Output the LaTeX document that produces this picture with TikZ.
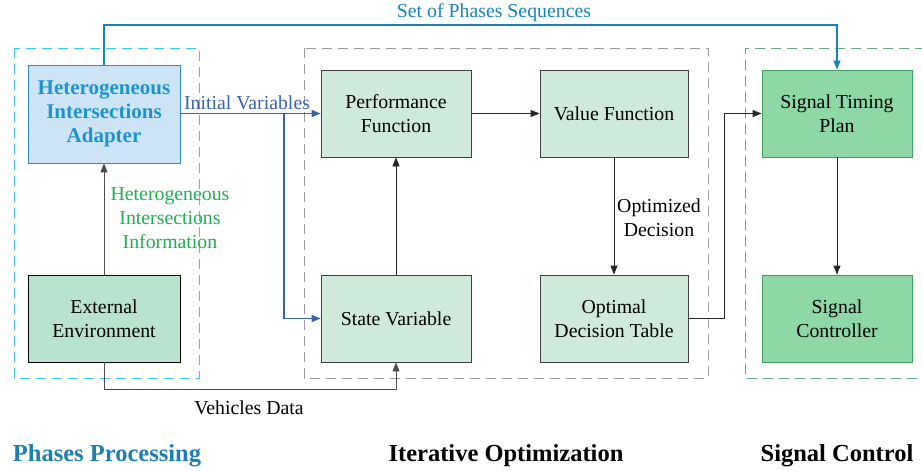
\documentclass[tikz,border=0pt]{standalone}
\usepackage{fontspec}
\setmainfont{Liberation Serif}
\newfontfamily\tms{Liberation Serif}
\usetikzlibrary{arrows.meta}
\definecolor{hiafill}{HTML}{CDE4F7}
\definecolor{hiadraw}{HTML}{2A8BC6}
\definecolor{hiatext}{HTML}{1C93D0}
\definecolor{infogreen}{HTML}{1DB04E}
\definecolor{topline}{HTML}{1584BC}
\definecolor{ivblue}{HTML}{3A62AA}
\definecolor{envfill}{HTML}{B8E3CF}
\definecolor{itfill}{HTML}{CFE9DA}
\definecolor{sigfill}{HTML}{8ED7A6}
\definecolor{sigdraw}{HTML}{3FA05E}
\definecolor{dashblue}{HTML}{3CC8F0}
\definecolor{dashgray}{HTML}{9A9A9A}
\definecolor{dashgreen}{HTML}{5FAA80}
\definecolor{titleblue}{HTML}{1F7FB0}
\begin{document}
\begin{tikzpicture}[x=1pt,y=-1pt,
  every node/.style={font=\tms\fontsize{19.8}{24}\selectfont, align=center, inner sep=0pt},
  box/.style={draw=black!75, line width=0.8pt, minimum width=150pt, minimum height=87pt},
  itbox/.style={box, fill=itfill},
  sigbox/.style={box, fill=sigfill, draw=sigdraw},
  grp/.style={dash pattern=on 10pt off 6pt, line width=0.9pt},
  conn/.style={draw=black!85, line width=0.8pt, -{Triangle[length=9pt,width=7pt]}},
  title/.style={font=\tms\fontsize{24.5}{28}\selectfont\bfseries}
]
\useasboundingbox (0,0) rectangle (922,471);
% groups
\draw[grp, draw=dashblue] (14,48) rectangle (199,378);
\draw[grp, draw=dashgray] (304,48) rectangle (708,378);
\draw[grp, draw=dashgreen] (925,48) -- (745,48) -- (745,378) -- (925,378);
% nodes
\node[box, fill=hiafill, draw=hiadraw, minimum width=152pt, minimum height=98pt, text=hiatext, font=\tms\fontsize{21}{24}\selectfont\bfseries] (hia) at (104,114) {Heterogeneous\\Intersections\\Adapter};
\node[box, fill=envfill, draw=black, minimum width=152pt] (env) at (104,318.5) {External\\Environment};
\node[itbox] (pf) at (396,113.5) {Performance\\Function};
\node[itbox, minimum width=148pt] (vf) at (614,113.5) {Value Function};
\node[itbox] (sv) at (396,318.5) {State Variable};
\node[itbox, minimum width=148pt] (odt) at (614,318.5) {Optimal\\Decision Table};
\node[sigbox] (stp) at (837,113.5) {Signal Timing\\Plan};
\node[sigbox] (sc) at (837,318.5) {Signal\\Controller};
% connectors
\draw[conn, draw=black!70] (env.north) -- (hia.south);
\node[text=infogreen] (info) at (170,218) {Heterogeneous\\Intersections\\Information};
\draw[conn, draw=topline, line width=1.2pt] (hia.north) |- (837,25) coordinate (tc) -- (stp.north);
\node[text=topline] (setl) at (494,13) {Set of Phases Sequences};
\draw[conn, draw=ivblue, line width=1.3pt] (hia.east |- pf.west) -- (pf.west);
\coordinate (br) at (284,113.5);
\draw[conn, draw=ivblue, line width=1.3pt] (br) |- (sv.west);
\node[text=ivblue] (ivl) at (247,103) {Initial Variables};
\draw[conn] (sv.north) -- (pf.south);
\draw[conn] (pf.east) -- (vf.west);
\draw[conn] (vf.south) -- (odt.north);
\node (optl) at (659,218) {Optimized\\Decision};
\draw[conn] (odt.east) -- (724,318.5) |- (stp.west);
\draw[conn] (stp.south) -- (sc.north);
\draw[conn, draw=black!70] (env.south) -- (104,389) -| (sv.south);
\node (vdl) at (249,408) {Vehicles Data};
% titles
\node[title, text=titleblue] (t1) at (107,456) {Phases Processing};
\node[title] (t2) at (506,456) {Iterative Optimization};
\node[title] (t3) at (837,456) {Signal Control};
\end{tikzpicture}
\end{document}
